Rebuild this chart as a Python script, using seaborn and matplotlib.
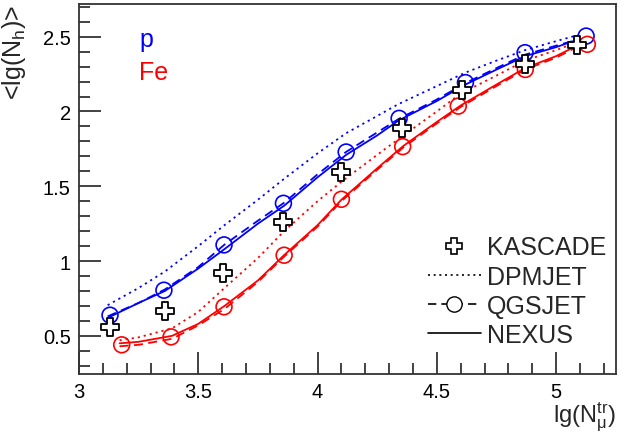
import matplotlib
matplotlib.use("Agg")
import matplotlib.pyplot as plt
from matplotlib.lines import Line2D
from matplotlib.ticker import MultipleLocator, FuncFormatter
import seaborn as sns

# ─── Data ────────────────────────────────────────────────────────────────────
kascade_x = [3.13, 3.36, 3.605, 3.854, 4.10, 4.353, 4.607, 4.87, 5.087]
kascade_y = [0.556, 0.667, 0.923, 1.262, 1.596, 1.892, 2.143, 2.32, 2.444]

qgs_p_pts_x = [3.13, 3.356, 3.608, 3.857, 4.12, 4.342, 4.62, 4.87, 5.126]
qgs_p_pts_y = [0.638, 0.805, 1.108, 1.386, 1.729, 1.954, 2.193, 2.393, 2.504]
qgs_fe_pts_x = [3.179, 3.386, 3.608, 3.86, 4.10, 4.357, 4.59, 4.871, 5.131]
qgs_fe_pts_y = [0.44, 0.493, 0.694, 1.039, 1.413, 1.765, 2.036, 2.281, 2.449]

p_curve_x = [3.12, 3.25, 3.36, 3.5, 3.61, 3.75, 3.86, 4.0, 4.12,
             4.25, 4.34, 4.5, 4.62, 4.75, 4.87, 5.0, 5.09]
nexus_p = [0.62, 0.72, 0.80, 0.95, 1.08, 1.25, 1.37, 1.56, 1.71,
           1.84, 1.94, 2.07, 2.18, 2.28, 2.37, 2.43, 2.48]
qgsjet_p = [0.63, 0.72, 0.81, 0.96, 1.11, 1.27, 1.39, 1.58, 1.73,
            1.86, 1.95, 2.08, 2.19, 2.29, 2.38, 2.44, 2.48]
dpmjet_p = [0.705, 0.82, 0.93, 1.10, 1.24, 1.41, 1.55, 1.72, 1.855,
            1.97, 2.05, 2.17, 2.26, 2.34, 2.41, 2.47, 2.51]

fe_curve_x = [3.17, 3.25, 3.39, 3.5, 3.61, 3.75, 3.86, 4.0, 4.1,
              4.25, 4.36, 4.5, 4.6, 4.75, 4.87, 5.0, 5.1]
nexus_fe = [0.45, 0.46, 0.50, 0.58, 0.70, 0.87, 1.04, 1.24, 1.41,
            1.62, 1.77, 1.93, 2.04, 2.18, 2.29, 2.37, 2.45]
qgsjet_fe = [0.43, 0.44, 0.48, 0.57, 0.68, 0.86, 1.03, 1.23, 1.40,
             1.61, 1.76, 1.92, 2.03, 2.17, 2.28, 2.36, 2.44]
dpmjet_fe = [0.47, 0.49, 0.55, 0.66, 0.82, 1.02, 1.20, 1.40, 1.53,
             1.71, 1.84, 2.00, 2.12, 2.24, 2.34, 2.41, 2.47]

BLUE, RED = "#0000ff", "#ff0000"
DOTTED = (0, (1.2, 2.2))
DASHED = (0, (5, 3))

sns.set_style("ticks")
plt.rcParams["font.family"] = ["Liberation Sans", "DejaVu Sans"]
plt.rcParams["mathtext.default"] = "regular"

fig = plt.figure(figsize=(6.27, 4.35), dpi=100)
ax = fig.add_axes([0.126, 0.138, 0.856, 0.851])

# ─── Model curves ────────────────────────────────────────────────────────────
for cx, ys, col in [(p_curve_x, [dpmjet_p, qgsjet_p, nexus_p], BLUE),
                    (fe_curve_x, [dpmjet_fe, qgsjet_fe, nexus_fe], RED)]:
    for y, ls in zip(ys, [DOTTED, DASHED, "-"]):
        sns.lineplot(x=cx, y=y, ax=ax, color=col, linestyle=ls,
                     linewidth=1.3, estimator=None, sort=False)

for px, py, col in [(qgs_p_pts_x, qgs_p_pts_y, BLUE),
                    (qgs_fe_pts_x, qgs_fe_pts_y, RED)]:
    sns.scatterplot(x=px, y=py, ax=ax, marker="o", s=130,
                    facecolor="none", edgecolor=col, linewidth=1.2, zorder=4)

sns.scatterplot(x=kascade_x, y=kascade_y, ax=ax, marker="P", s=150,
                facecolor="white", edgecolor="black", linewidth=1.3, zorder=5)

# ─── Axes styling ────────────────────────────────────────────────────────────
ax.set_xlim(3.0, 5.25)
ax.set_ylim(0.245, 2.72)
ax.xaxis.set_major_locator(MultipleLocator(0.5))
ax.xaxis.set_minor_locator(MultipleLocator(0.1))
ax.yaxis.set_major_locator(MultipleLocator(0.5))
ax.yaxis.set_minor_locator(MultipleLocator(0.1))
fmt = FuncFormatter(lambda v, _: f"{v:g}")
ax.xaxis.set_major_formatter(fmt)
ax.yaxis.set_major_formatter(fmt)
ax.tick_params(which="both", direction="in", top=False, right=False,
               width=1.2, colors="#222222", labelcolor="black",
               labelsize=14.5, pad=6)
ax.tick_params(which="major", length=16)
ax.tick_params(which="minor", length=8)
for sp in ax.spines.values():
    sp.set_linewidth(1.3)
    sp.set_color("#333333")

ax.set_xlabel(r"lg(N$_{μ}^{tr}$)", fontsize=17, loc="right")
ax.xaxis.set_label_coords(1.0, -0.07)
ax.set_ylabel(r"<lg(N$_{h}$)>", fontsize=18, loc="top")
ax.yaxis.set_label_coords(-0.095, 1.0)

ax.text(0.112, 0.905, "p", color=BLUE, fontsize=18, transform=ax.transAxes,
        va="center", ha="left")
ax.text(0.112, 0.815, "Fe", color=RED, fontsize=18, transform=ax.transAxes,
        va="center", ha="left")

handles = [
    Line2D([], [], linestyle="none", marker="P", markersize=11,
           markerfacecolor="white", markeredgecolor="black", markeredgewidth=1.2),
    Line2D([], [], color="black", linestyle=DOTTED, linewidth=1.2),
    Line2D([], [], color="black", linestyle=DASHED, linewidth=1.2, marker="o",
           markersize=11, markerfacecolor="white", markeredgecolor="black"),
    Line2D([], [], color="black", linestyle="-", linewidth=1.2),
]
ax.legend(handles, ["KASCADE", "DPMJET", "QGSJET", "NEXUS"],
          loc="lower left", bbox_to_anchor=(0.618, 0.025), frameon=False,
          fontsize=18, handlelength=2.1, handletextpad=0.25,
          labelspacing=0.21, borderpad=0.2)

fig.savefig("out.png", dpi=100)
